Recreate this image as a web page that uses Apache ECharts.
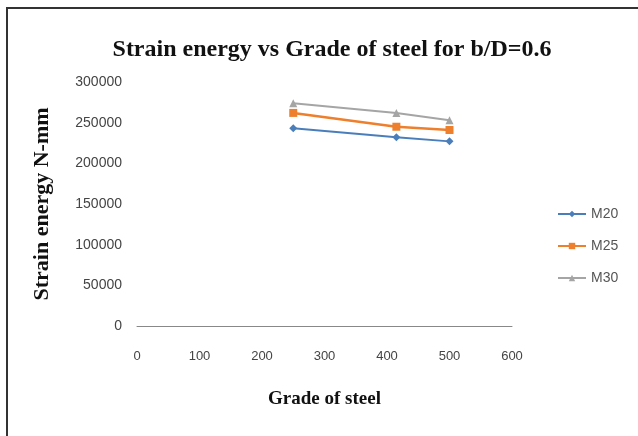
<!DOCTYPE html>
<html><head><meta charset="utf-8">
<script src="https://cdn.jsdelivr.net/npm/echarts@6/dist/echarts.min.js"></script>
<style>
html,body{margin:0;padding:0;background:#fff;}
#wrap{position:absolute;left:0;top:0;width:638px;height:436px;}
#frame{position:absolute;left:6px;top:7px;width:640px;height:440px;border-left:2px solid #333;border-top:2px solid #333;}
#c{position:absolute;left:0;top:0;width:638px;height:436px;}
</style></head>
<body><div id="wrap"><div id="frame"></div><div id="c"></div></div>
<script>
const grades = [250, 415, 500];
const m20 = [243000, 232000, 227000];
const m25 = [262000, 245000, 241000];
const m30 = [274000, 262000, 253000];
const seriesNames = ['M20', 'M25', 'M30'];

const chart = echarts.init(document.getElementById('c'));
const mk = (vals) => grades.map((g, i) => [g, vals[i]]);
const serif = '"Liberation Serif","DejaVu Serif",serif';
const sans = '"Liberation Sans","DejaVu Sans",sans-serif';
chart.setOption({
  animation: false,
  backgroundColor: 'transparent',
  title: {
    text: 'Strain energy vs Grade of steel for b/D=0.6',
    left: 327, top: 33, textAlign: 'center',
    textStyle: {fontFamily: serif, fontWeight: 'bold', fontSize: 24, color: '#111'}
  },
  grid: {left: 137, right: 126, top: 82, bottom: 110},
  legend: {
    orient: 'vertical', left: 552, top: 202, itemGap: 18,
    itemWidth: 28, itemHeight: 8,
    textStyle: {fontFamily: sans, fontSize: 14, color: '#555'},
    data: seriesNames
  },
  xAxis: {
    type: 'value', min: 0, max: 600, interval: 100,
    name: 'Grade of steel', nameLocation: 'middle', nameGap: 64,
    nameTextStyle: {fontFamily: serif, fontWeight: 'bold', fontSize: 19, color: '#111'},
    axisLine: {show: true, lineStyle: {color: '#888', width: 1}},
    axisTick: {show: false},
    splitLine: {show: false},
    axisLabel: {margin: 24, fontFamily: sans, fontSize: 13, color: '#444'}
  },
  yAxis: {
    type: 'value', min: 0, max: 300000, interval: 50000,
    name: 'Strain energy N-mm', nameLocation: 'middle', nameGap: 84,
    nameTextStyle: {fontFamily: serif, fontWeight: 'bold', fontSize: 22, color: '#111'},
    axisLine: {show: false}, axisTick: {show: false},
    splitLine: {show: false},
    axisLabel: {margin: 15, fontFamily: sans, fontSize: 14, color: '#444', formatter: v => String(v)}
  },
  series: [
    {name: 'M20', type: 'line', data: mk(m20), symbol: 'diamond', symbolSize: 8,
     itemStyle: {color: '#4a7ebb'}, lineStyle: {width: 2, color: '#4a7ebb'}},
    {name: 'M25', type: 'line', data: mk(m25), symbol: 'rect', symbolSize: 8,
     itemStyle: {color: '#ee7f2d'}, lineStyle: {width: 2.5, color: '#ee7f2d'}},
    {name: 'M30', type: 'line', data: mk(m30), symbol: 'triangle', symbolSize: 8,
     itemStyle: {color: '#a5a5a5'}, lineStyle: {width: 2, color: '#a5a5a5'}}
  ]
});
</script></body></html>
